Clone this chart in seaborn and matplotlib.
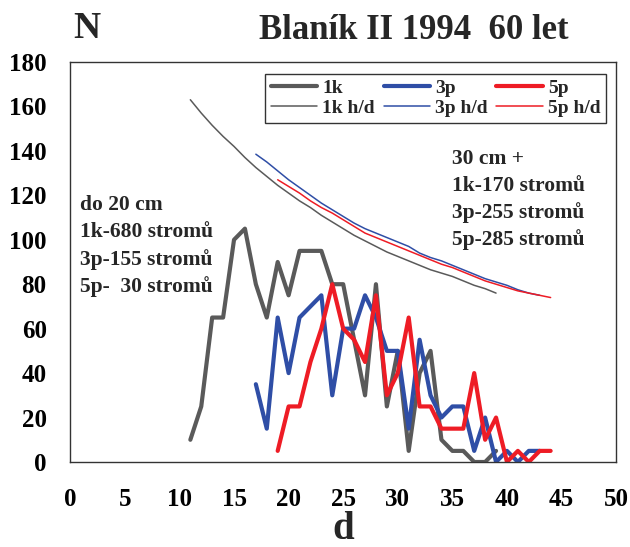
import numpy as np
import pandas as pd
import matplotlib
matplotlib.use("Agg")
import matplotlib.pyplot as plt
import seaborn as sns

# ---- data ----
d_1k = list(range(11, 40))
n_1k = [10, 25, 65, 65, 100, 105, 80, 65, 90, 75, 95, 95, 95, 80, 80, 55, 30, 80,
        25, 50, 5, 40, 50, 10, 5, 5, 0, 0, 5]
hd_1k = [163, 157, 151.5, 146.5, 142, 137, 132.5, 128.5, 124.5, 121, 117.5, 114.5,
         111, 108, 105, 102, 99.5, 97, 94.5, 92.5, 90.5, 88.5, 86.5, 85, 83.5, 81.5,
         79.5, 78, 76]

d_3p = list(range(17, 44))
n_3p = [35, 15, 65, 40, 65, 70, 75, 30, 60, 60, 75, 65, 50, 50, 15, 55, 30, 20,
        25, 25, 5, 20, 0, 5, 0, 5, 5]
hd_3p = [138.5, 135, 131, 127, 123.5, 120, 116.5, 113.5, 110.5, 107.5, 105, 103,
         101, 99, 97, 94, 92, 90.5, 88.5, 86.5, 84.5, 82.5, 81, 79.5, 77.5, 76, 75]

d_5p = list(range(19, 45))
n_5p = [5, 25, 25, 45, 60, 80, 60, 55, 45, 75, 30, 40, 65, 25, 25, 15, 15, 15,
        40, 10, 20, 0, 5, 0, 5, 5]
hd_5p = [127, 124, 121, 117.5, 114.5, 112, 109, 106, 103, 101, 99, 97, 95, 93, 91,
         89, 87.5, 85.5, 83.5, 81.5, 80, 78.5, 77, 76, 75, 74]

x_ticks = list(range(0, 51, 5))
y_ticks = list(range(0, 181, 20))

left_note = ["do 20 cm", "1k-680 stromů", "3p-155 stromů", "5p-  30 stromů"]
right_note = ["30 cm +", "1k-170 stromů", "3p-255 stromů", "5p-285 stromů"]

GRAY = "#5a5a5a"
BLUE = "#2f4ea6"
RED = "#ee1c25"

sns.set_style("white")
plt.rcParams["font.family"] = ["Liberation Serif", "DejaVu Serif"]
plt.rcParams["font.weight"] = "bold"

fig = plt.figure(figsize=(6.3, 5.47), dpi=100)
ax = fig.add_axes([0.1115, 0.1554, 0.8665, 0.7313])

series = [
    ("1k", d_1k, n_1k, GRAY, 3.0),
    ("1k h/d", d_1k, hd_1k, GRAY, 1.1),
    ("3p", d_3p, n_3p, BLUE, 3.0),
    ("3p h/d", d_3p, hd_3p, BLUE, 1.1),
    ("5p", d_5p, n_5p, RED, 3.0),
    ("5p h/d", d_5p, hd_5p, RED, 1.1),
]
for name, xs, ys, col, lw in series:
    df = pd.DataFrame({"d": xs, "N": ys})
    sns.lineplot(data=df, x="d", y="N", ax=ax, color=col, linewidth=lw,
                 label=name, sort=False)

ax.set_xlim(0, 50)
ax.set_ylim(0, 180)
ax.set_xticks(x_ticks)
ax.set_yticks(y_ticks)
ax.tick_params(axis="both", direction="out", length=6, width=1, colors="black",
               labelsize=18)
ax.tick_params(axis="x", pad=13)
ax.tick_params(axis="y", pad=11)
for lab in ax.get_xticklabels() + ax.get_yticklabels():
    lab.set_fontweight("bold")
for s in ax.spines.values():
    s.set_color("#333333")
    s.set_linewidth(1.0)

ax.set_xlabel("d", fontsize=28, fontweight="bold", labelpad=0)
ax.set_ylabel("")

fig.text(0.138, 0.948, "N", fontsize=27, fontweight="bold", ha="center", va="center")
fig.text(0.656, 0.945, "Blaník II 1994  60 let", fontsize=25, fontweight="bold",
         ha="center", va="center")

for i, t in enumerate(left_note):
    ax.text(0.9, 115.5 - i * 12.2, t, fontsize=15.5, fontweight="bold",
            ha="left", va="center")
for i, t in enumerate(right_note):
    ax.text(35.0, 136.5 - i * 12.2, t, fontsize=15.5, fontweight="bold",
            ha="left", va="center")

handles, labels = ax.get_legend_handles_labels()
leg = ax.legend(handles, labels, ncol=3, loc="upper right",
                bbox_to_anchor=(0.993, 0.985), frameon=True, fancybox=False,
                edgecolor="black", prop={"size": 14, "weight": "bold"},
                handlelength=2.4, handletextpad=0.25, columnspacing=0.45,
                labelspacing=0.1, borderpad=0.3, borderaxespad=0.3)
leg.get_frame().set_linewidth(1.0)

fig.savefig("out.png", dpi=100, facecolor="white")
